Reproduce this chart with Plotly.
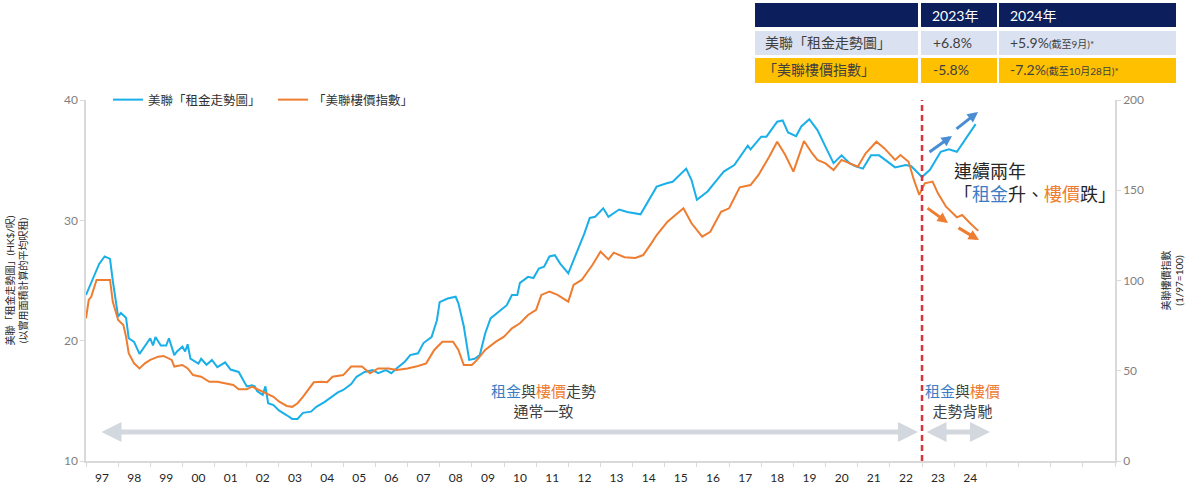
import plotly.graph_objects as go

# ---------------- data ----------------
rent_dates = [
    "1997-01", "1997-03", "1997-06", "1997-08", "1997-10", "1997-11", "1998-01", "1998-02",
    "1998-04", "1998-05", "1998-07", "1998-09", "1998-11", "1999-01", "1999-02", "1999-03",
    "1999-05", "1999-07", "1999-08", "1999-10", "1999-11", "2000-01", "2000-02", "2000-03",
    "2000-04", "2000-07", "2000-08", "2000-10", "2000-12", "2001-02", "2001-05", "2001-07",
    "2001-10", "2001-11", "2002-01", "2002-03", "2002-04", "2002-05", "2002-07", "2002-08",
    "2002-09", "2002-11", "2003-01", "2003-04", "2003-06", "2003-08", "2003-10", "2004-01",
    "2004-03", "2004-06", "2004-08", "2004-11", "2005-01", "2005-04", "2005-06", "2005-09",
    "2005-12", "2006-02", "2006-05", "2006-07", "2006-09", "2006-12", "2007-02", "2007-05",
    "2007-07", "2007-10", "2007-12", "2008-01", "2008-04", "2008-07", "2008-08", "2008-10",
    "2008-12", "2009-02", "2009-04", "2009-06", "2009-08", "2009-11", "2010-02", "2010-04",
    "2010-06", "2010-07", "2010-10", "2010-12", "2011-02", "2011-04", "2011-06", "2011-08",
    "2011-10", "2012-01", "2012-04", "2012-07", "2012-09", "2012-11", "2013-02", "2013-04",
    "2013-08", "2013-11", "2014-04", "2014-07", "2014-10", "2015-02", "2015-04", "2015-09",
    "2015-11", "2016-01", "2016-05", "2016-09", "2016-11", "2017-03", "2017-08", "2017-09",
    "2018-01", "2018-03", "2018-07", "2018-09", "2018-11", "2019-02", "2019-04", "2019-07",
    "2019-10", "2020-01", "2020-04", "2020-07", "2020-10", "2020-12", "2021-03", "2021-06",
    "2021-09", "2021-12", "2022-03", "2022-07", "2022-09", "2023-01", "2023-04", "2023-08",
    "2023-11", "2024-02", "2024-05", "2024-09",
]
rent_values = [
    23.8, 24.8, 26.4, 27.0, 26.8, 25.0, 22.0, 22.3,
    21.9, 20.2, 19.9, 18.9, 19.5, 20.2, 19.6, 20.3,
    19.6, 19.6, 20.2, 18.8, 19.1, 19.5, 19.1, 19.7,
    18.5, 18.1, 18.5, 18.0, 18.4, 17.8, 18.2, 17.6,
    17.4, 17.0, 16.2, 16.3, 16.2, 15.8, 15.5, 16.2,
    14.8, 14.65, 14.2, 13.8, 13.5, 13.5, 14.0, 14.1,
    14.5, 14.9, 15.2, 15.7, 15.9, 16.4, 17.0, 17.4,
    17.55, 17.3, 17.55, 17.3, 17.7, 18.25, 18.8, 18.95,
    19.8, 20.3, 21.7, 23.2, 23.5, 23.65, 23.1, 21.2,
    18.4, 18.5, 18.8, 20.6, 21.85, 22.4, 22.95, 23.8,
    23.8, 24.8, 25.3, 25.2, 26.0, 26.15, 27.0, 27.1,
    26.4, 25.6, 27.25, 28.9, 30.2, 30.3, 31.0, 30.3,
    30.9, 30.7, 30.5, 31.6, 32.8, 33.1, 33.2, 34.3,
    33.35, 31.7, 32.4, 33.5, 34.05, 34.6, 36.2, 35.9,
    36.95, 36.95, 38.2, 38.3, 37.3, 37.0, 37.8, 38.4,
    37.5, 36.1, 34.75, 35.4, 34.75, 34.5, 34.3, 35.4,
    35.4, 34.9, 34.4, 34.6, 34.5, 33.6, 34.2, 35.7,
    35.9, 35.7, 36.7, 38.0,
]

price_dates = [
    "1997-01", "1997-02", "1997-03", "1997-05", "1997-07", "1997-10", "1997-11", "1998-01",
    "1998-03", "1998-04", "1998-05", "1998-07", "1998-09", "1998-11", "1999-01", "1999-04",
    "1999-06", "1999-09", "1999-10", "2000-01", "2000-03", "2000-05", "2000-08", "2000-11",
    "2001-02", "2001-05", "2001-08", "2001-10", "2002-01", "2002-03", "2002-05", "2002-08",
    "2002-11", "2003-01", "2003-04", "2003-06", "2003-08", "2003-10", "2004-02", "2004-05",
    "2004-07", "2004-09", "2004-12", "2005-01", "2005-04", "2005-08", "2005-11", "2006-02",
    "2006-06", "2006-09", "2007-01", "2007-05", "2007-08", "2007-11", "2008-02", "2008-06",
    "2008-08", "2008-10", "2009-01", "2009-03", "2009-06", "2009-10", "2010-01", "2010-04",
    "2010-07", "2010-10", "2011-01", "2011-03", "2011-06", "2011-09", "2012-01", "2012-03",
    "2012-06", "2012-10", "2013-01", "2013-04", "2013-06", "2013-10", "2014-02", "2014-05",
    "2014-08", "2014-10", "2015-02", "2015-04", "2015-08", "2015-11", "2016-03", "2016-06",
    "2016-10", "2017-01", "2017-05", "2017-09", "2017-12", "2018-04", "2018-07", "2018-10",
    "2019-01", "2019-03", "2019-05", "2019-08", "2019-10", "2020-01", "2020-04", "2020-07",
    "2020-10", "2021-01", "2021-04", "2021-08", "2021-11", "2022-03", "2022-05", "2022-08",
    "2022-10", "2022-12", "2023-02", "2023-05", "2023-07", "2023-10", "2024-02", "2024-04",
    "2024-07", "2024-10",
]
price_values = [
    79.0, 89.2, 91.0, 100.3, 100.3, 100.3, 88.3, 78.1,
    75.4, 68.9, 59.7, 54.1, 51.3, 54.1, 56.0, 57.8,
    58.2, 56.0, 52.3, 53.2, 51.3, 47.6, 46.7, 43.9,
    43.9, 43.1, 42.1, 39.7, 39.7, 41.2, 39.7, 37.5,
    35.6, 33.0, 30.5, 30.0, 32.0, 35.5, 43.6, 43.9,
    43.6, 46.7, 47.6, 47.6, 52.3, 52.3, 48.6, 51.3,
    51.3, 50.4, 51.3, 52.6, 54.1, 61.5, 66.1, 66.1,
    61.5, 53.2, 53.2, 56.0, 61.5, 66.1, 68.9, 73.5,
    76.3, 80.9, 83.7, 92.0, 93.8, 92.0, 88.3, 97.5,
    100.3, 108.6, 116.0, 111.7, 115.4, 112.9, 112.5, 114.1,
    120.6, 125.2, 132.6, 135.0, 140.0, 131.7, 124.3, 127.0,
    138.1, 140.0, 151.6, 152.9, 158.5, 168.6, 176.9, 169.5,
    160.3, 168.6, 177.3, 170.5, 166.8, 164.9, 161.2, 166.8,
    164.9, 163.0, 170.5, 176.9, 173.2, 166.8, 169.5, 165.8,
    155.7, 147.4, 153.8, 154.8, 148.3, 140.9, 135.0, 136.3,
    131.7, 127.5,
]

year_labels = ["97", "98", "99", "00", "01", "02", "03", "04", "05", "06", "07", "08", "09",
               "10", "11", "12", "13", "14", "15", "16", "17", "18", "19", "20", "21", "22",
               "23", "24"]
label_years = list(range(1997, 2025))

rent_name = "美聯「租金走勢圖」"
price_name = "「美聯樓價指數」"
table_header = ["", "2023年", "2024年"]
table_rent = [rent_name, "+6.8%", "+5.9%", "(截至9月)*"]
table_price = [price_name, "-5.8%", "-7.2%", "(截至10月28日)*"]

# ---------------- styling ----------------
FONT = "Lato, 'Noto Sans CJK TC', 'Noto Sans CJK SC', sans-serif"
BLUE = "#1AAFE8"
ORANGE = "#EE7D31"
TXT_BLUE = "#3B7DC4"
DARK = "#404040"
AXIS = "#D9D9D9"

W, H = 1200, 488
L, R, T, B = 86, 1115, 100, 461


def px(xp):
    return (xp - L) / (R - L)


def py(yp):
    return (B - yp) / (B - T)


fig = go.Figure()
fig.add_trace(go.Scatter(x=rent_dates, y=rent_values, name=rent_name, mode="lines",
                         line=dict(color=BLUE, width=2), yaxis="y"))
fig.add_trace(go.Scatter(x=price_dates, y=price_values, name=price_name, mode="lines",
                         line=dict(color=ORANGE, width=2), yaxis="y2"))

shapes = []
annotations = []

# dashed red divider at start of 2023
shapes.append(dict(type="line", xref="x", yref="paper", x0="2023-01-01", x1="2023-01-01",
                   y0=0, y1=1.0, line=dict(color="#D9343A", width=2.5, dash="6px,4px")))

# ---- table at top ----
cols = [(755, 918), (921, 997), (999, 1176)]
rows = [(3, 27, "#0C1F5C"), (31, 55, "#DAE2F2"), (58, 83, "#FFC000")]
for (y0, y1, col) in rows:
    for (x0, x1) in cols:
        shapes.append(dict(type="rect", xref="paper", yref="paper",
                           x0=px(x0), x1=px(x1), y0=py(y1), y1=py(y0),
                           fillcolor=col, line=dict(width=0), layer="above"))


def cell_text(text, xp, yp, color, size=14):
    annotations.append(dict(text=text, xref="paper", yref="paper", x=px(xp), y=py(yp),
                            xanchor="left", yanchor="middle", showarrow=False,
                            font=dict(family=FONT, size=size, color=color)))


cell_text(table_header[1], 930, 15, "white")
cell_text(table_header[2], 1008, 15, "white")
cell_text(table_rent[0], 763, 43, DARK)
cell_text(table_rent[1], 931, 43, DARK)
cell_text(table_rent[2] + f"<span style='font-size:10px'>{table_rent[3]}</span>", 1008, 43, DARK)
cell_text(table_price[0], 761, 70, DARK)
cell_text(table_price[1], 931, 70, DARK)
cell_text(table_price[2] + f"<span style='font-size:10px'>{table_price[3]}</span>", 1008, 70, DARK)

# ---- text annotations in plot ----
def colored(a, b, c, d=""):
    return (f"<span style='color:{TXT_BLUE}'>{a}</span>{b}"
            f"<span style='color:{ORANGE}'>{c}</span>{d}")

annotations.append(dict(text=colored("租金", "與", "樓價", "走勢") + "<br>通常一致",
                        xref="paper", yref="paper", x=px(543), y=py(401),
                        xanchor="center", yanchor="middle",
                        showarrow=False, align="center",
                        font=dict(family=FONT, size=15, color="#404040")))
annotations.append(dict(text=colored("租金", "與", "樓價") + "<br>走勢背馳",
                        xref="paper", yref="paper", x=px(962), y=py(401),
                        xanchor="center", yanchor="middle",
                        showarrow=False, align="center",
                        font=dict(family=FONT, size=15, color="#404040")))
annotations.append(dict(text="連續兩年<br>「" + colored("租金", "升、", "樓價", "跌") + "」",
                        xref="paper", yref="paper", x=px(952), y=py(182),
                        xanchor="left", yanchor="middle", showarrow=False, align="left",
                        font=dict(family=FONT, size=18, color="#262626")))

# ---- arrows ----
def arrow(tail, head, color, width, side="end", head_style=2, size=1.0):
    annotations.append(dict(text="", xref="paper", yref="paper",
                            x=px(head[0]), y=py(head[1]),
                            ax=tail[0] - head[0], ay=tail[1] - head[1],
                            axref="pixel", ayref="pixel",
                            showarrow=True, arrowhead=head_style, arrowside=side,
                            arrowsize=size, arrowwidth=width, arrowcolor=color,
                            startarrowhead=head_style, startarrowsize=size))

arrow((928, 153), (952, 136), "#4A8DD3", 3, size=0.7)
arrow((955, 130), (978, 112), "#4A8DD3", 3, size=0.7)
arrow((926, 207), (948, 223), ORANGE, 3, size=0.7)
arrow((957, 227), (979, 240), ORANGE, 3, size=0.7)
arrow((100, 432), (918, 432), "#D3D7DE", 5, side="end+start", head_style=2, size=0.8)
arrow((925, 432), (990, 432), "#D3D7DE", 5, side="end+start", head_style=2, size=0.8)

fig.update_layout(
    width=W, height=H,
    margin=dict(l=L, r=W - R, t=T, b=H - B, pad=0, autoexpand=False),
    paper_bgcolor="white", plot_bgcolor="white",
    font=dict(family=FONT, size=11, color=DARK),
    showlegend=True,
    legend=dict(orientation="h", x=px(108), y=1.0, xanchor="left", yanchor="middle",
                font=dict(family=FONT, size=12.5, color="#303030"), bgcolor="rgba(0,0,0,0)",
                entrywidth=120, entrywidthmode="pixels", itemwidth=30,
                tracegroupgap=0),
    xaxis=dict(type="date", range=["1997-01-01", "2029-01-01"], automargin=False,
               tickvals=[f"{y}-07-02" for y in label_years], ticktext=year_labels,
               ticks="", showgrid=False, zeroline=False, ticklabelstandoff=5,
               showline=True, linecolor=AXIS, linewidth=1.5,
               tickfont=dict(family=FONT, size=12, color="#262626"),
               minor=dict(dtick="M12", tick0="1997-01-01", ticks="outside", ticklen=4,
                          tickcolor=AXIS, tickwidth=1.2, showgrid=False)),
    yaxis=dict(range=[10, 40], dtick=10, tick0=10, showgrid=False, zeroline=False,
               showline=True, linecolor=AXIS, linewidth=1.5, automargin=False,
               ticks="outside", ticklen=4, tickcolor=AXIS,
               tickfont=dict(family=FONT, size=12, color="#7F7F7F"),
               title=dict(text="美聯「租金走勢圖」(HK$/呎)<br>(以實用面積計算的平均呎租)",
                          font=dict(family=FONT, size=10, color="#262626"), standoff=34)),
    yaxis2=dict(range=[0, 200], dtick=50, tick0=0, overlaying="y", side="right",
                showgrid=False, zeroline=False, automargin=False,
                showline=True, linecolor=AXIS, linewidth=1.5,
                ticks="outside", ticklen=4, tickcolor=AXIS,
                tickfont=dict(family=FONT, size=12, color="#7F7F7F"),
                title=dict(text="美聯樓價指數<br>(1/97=100)",
                           font=dict(family=FONT, size=10, color="#262626"), standoff=20)),
    shapes=shapes,
    annotations=annotations,
)

fig.write_html("out.html")
